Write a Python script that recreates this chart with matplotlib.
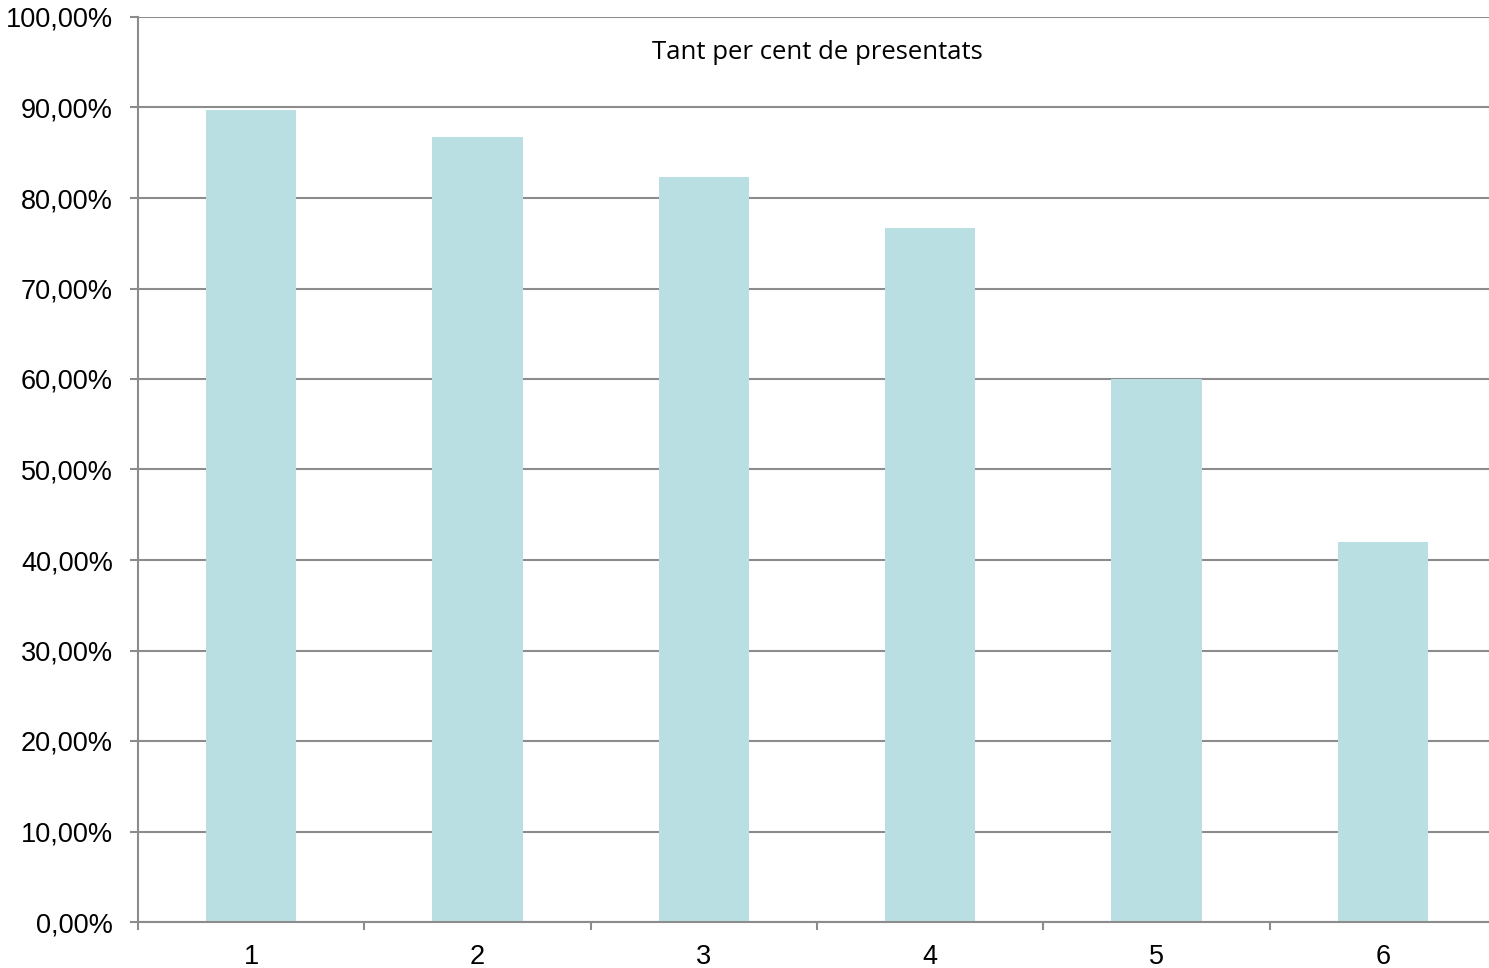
import numpy as np
from matplotlib import pyplot as plt
from matplotlib.ticker import FuncFormatter

categories = ['1', '2', '3', '4', '5', '6']
values = [89.7, 86.7, 82.3, 76.7, 60.0, 42.0]
title = 'Tant per cent de presentats'

plt.rcParams['font.family'] = ['Liberation Sans', 'DejaVu Sans']

fig = plt.figure(figsize=(14.89, 9.68), dpi=100)
ax = fig.add_axes([138 / 1489, 46 / 968, 1358 / 1489, 905 / 968])

x = np.arange(1, len(categories) + 1)
ax.bar(x, values, width=0.4, color='#b9dfe2', zorder=2)

ax.set_xlim(0.5, 6.5)
ax.set_ylim(0, 100)
ax.set_yticks(np.arange(0, 101, 10))
ax.yaxis.set_major_formatter(FuncFormatter(lambda v, p: f'{v:.2f}%'.replace('.', ',')))
ax.set_xticks(x)
ax.set_xticklabels(categories)
ax.set_xticks(np.arange(0.5, 6.5, 1), minor=True)

ax.grid(axis='y', color='#8c8c8c', linewidth=1.5, zorder=1)
for s in ['top', 'right']:
    ax.spines[s].set_visible(False)
for s in ['left', 'bottom']:
    ax.spines[s].set_color('#8c8c8c')
    ax.spines[s].set_linewidth(1.5)

ax.tick_params(axis='x', which='major', length=0, pad=16, labelsize=19.5)
ax.tick_params(axis='x', which='minor', length=6, color='#8c8c8c', width=1.5)
ax.tick_params(axis='y', length=6, color='#8c8c8c', width=1.5, labelsize=19.5, pad=12)

ax.text(0.5, 0.961, title, transform=ax.transAxes, ha='center', va='center',
        fontsize=18.5, family=['Open Sans', 'DejaVu Sans'])

plt.savefig('out.png')
